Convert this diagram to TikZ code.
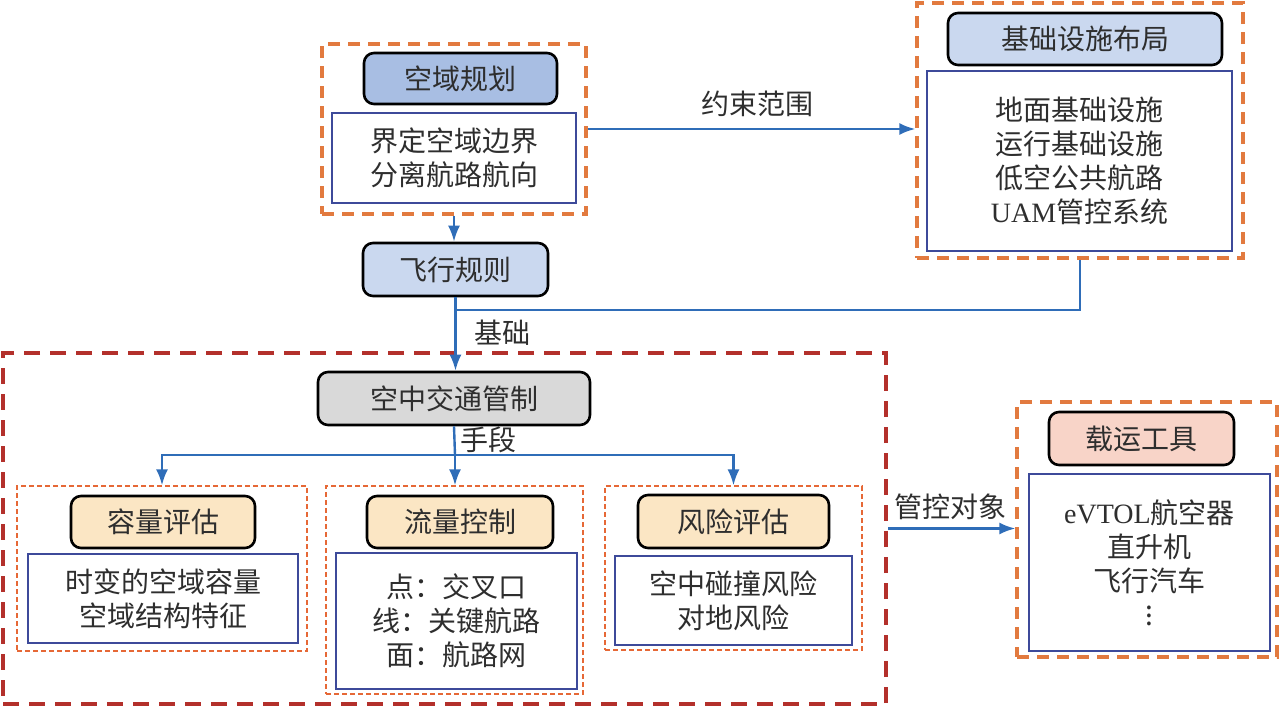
\documentclass[tikz,border=0pt]{standalone}
\usepackage{fontspec}
\setmainfont{Liberation Serif}
\newfontfamily\cjk{Noto Sans CJK SC}
\usetikzlibrary{arrows.meta}
\definecolor{grporange}{HTML}{E27A3F}
\definecolor{grpred}{HTML}{B3302B}
\definecolor{bodyblue}{HTML}{3D4A9A}
\definecolor{arrblue}{HTML}{2F6DB8}
\definecolor{txt}{HTML}{2E2E2E}
\definecolor{kyfill}{HTML}{A8BEE3}
\definecolor{fxfill}{HTML}{CAD8EF}
\definecolor{kzfill}{HTML}{D9D9D9}
\definecolor{pgfill}{HTML}{FBE6C4}
\definecolor{zyfill}{HTML}{F8D4C8}
\begin{document}
\begin{tikzpicture}
      [x=0.5pt, y=-0.5pt,
      every node/.style={font=\cjk\fontsize{14}{17}\selectfont, text=txt},
      head/.style={draw=black, line width=1.3pt, rounded corners=5pt, inner sep=0pt},
      body/.style={draw=bodyblue, line width=1pt, fill=white, align=center, inner sep=0pt},
      grp/.style={draw=grporange, line width=1.6pt, dash pattern=on 6pt off 4pt},
      subgrp/.style={draw=grporange!85!red, line width=0.6pt, dash pattern=on 2.5pt off 1.5pt},
      biggrp/.style={draw=grpred, line width=2pt, dash pattern=on 8pt off 5pt},
      conn/.style={draw=arrblue, line width=1.2pt},
      arr/.style={conn, -{Latex[length=8pt,width=6pt]}}]
      \useasboundingbox (0,0) rectangle (1280,707);
      % groups
      \node[grp, minimum width=132pt, minimum height=85pt] (grpA) at (454,129) {};
      \node[grp, minimum width=163pt, minimum height=127.5pt] (grpB) at (1080,130.5) {};
      \node[biggrp, minimum width=441.5pt, minimum height=175.5pt] (grpC) at (444.5,528.5) {};
      \node[grp, minimum width=130pt, minimum height=127.5pt] (grpD) at (1147,529.5) {};
      \node[subgrp, minimum width=145pt, minimum height=82.5pt] (sub1) at (162,568.5) {};
      \node[subgrp, minimum width=128.5pt, minimum height=104pt] (sub2) at (454.5,590) {};
      \node[subgrp, minimum width=128.5pt, minimum height=82pt] (sub3) at (733.5,568) {};
      % airspace
      \node[head, fill=kyfill, minimum width=96.5pt, minimum height=25.5pt] (kyHead) at (460.5,78.5) {空域规划};
      \node[body, minimum width=122pt, minimum height=45pt] (kyBody) at (454,158) {界定空域边界\\分离航路航向};
      \node[head, fill=fxfill, minimum width=92.5pt, minimum height=26.5pt] (fxHead) at (455.5,269.5) {飞行规则};
      % infrastructure
      \node[head, fill=fxfill, minimum width=137pt, minimum height=26pt] (jsHead) at (1085,39) {基础设施布局};
      \node[body, minimum width=152.5pt, minimum height=90pt] (jsBody) at (1079.5,161)
        {地面基础设施\\运行基础设施\\低空公共航路\\{\rmfamily UAM}管控系统};
      % traffic control
      \node[head, fill=kzfill, minimum width=136pt, minimum height=26.5pt] (kzHead) at (454,398.5) {空中交通管制};
      \node[head, fill=pgfill, minimum width=92pt, minimum height=26pt] (rlHead) at (163,522) {容量评估};
      \node[body, minimum width=135pt, minimum height=44.5pt] (rlBody) at (163,598.5) {时变的空域容量\\空域结构特征};
      \node[head, fill=pgfill, minimum width=93pt, minimum height=26pt] (llHead) at (460,522) {流量控制};
      \node[body, minimum width=120.5pt, minimum height=68pt] (llBody) at (456.5,621) {点：交叉口\\线：关键航路\\面：航路网};
      \node[head, fill=pgfill, minimum width=95.5pt, minimum height=26.5pt] (fxpHead) at (733.5,521.5) {风险评估};
      \node[body, minimum width=118.5pt, minimum height=44.5pt] (fxpBody) at (733.5,600.5) {空中碰撞风险\\对地风险};
      % vehicles
      \node[head, fill=zyfill, minimum width=92.5pt, minimum height=26.5pt] (zyHead) at (1141.5,438.5) {载运工具};
      \node[body, minimum width=120.5pt, minimum height=88.5pt] (zyBody) at (1149.5,562.5)
        {{\rmfamily eVTOL}航空器\\直升机\\飞行汽车\\$\vdots$};
      % labels
      \node (lbYS) at (757,104) {约束范围};
      \node (lbJC) at (502,333) {基础};
      \node (lbSD) at (488,440) {手段};
      \node (lbGK) at (950,507) {管控对象};
      % connectors
      \coordinate (join) at (455,310);
      \coordinate (fork) at (455,455);
      \draw[arr] (grpA.south) -- (grpA.south |- fxHead.north);
      \draw[arr] (grpA.east) -- (grpA.east -| grpB.west);
      \draw[arr] (fxHead.south) -- (fxHead.south |- kzHead.north);
      \draw[conn] (grpB.south) |- (join);
      \draw[conn] (kzHead.south) -- (fork);
      \draw[arr] (fork) -| (sub1.north);
      \draw[arr] (fork) -- (fork |- sub2.north);
      \draw[arr] (fork) -| (sub3.north);
      \draw[arr] (grpC.east) -- (grpC.east -| grpD.west);
    \end{tikzpicture}
\end{document}
